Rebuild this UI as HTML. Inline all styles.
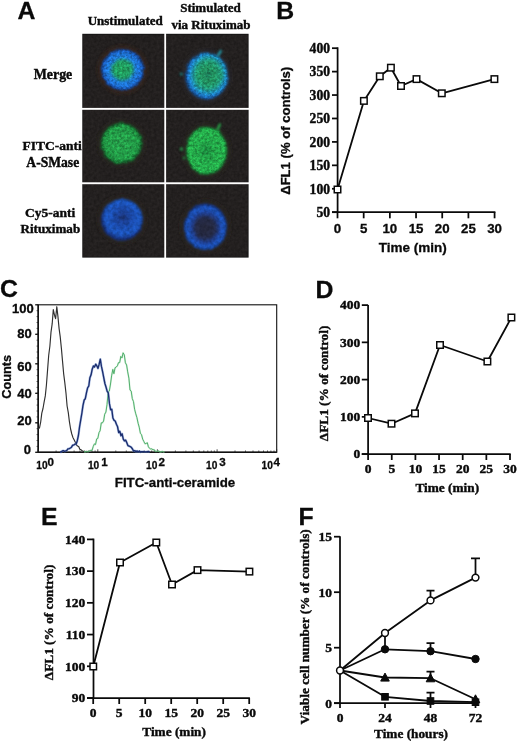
<!DOCTYPE html>
<html lang="en"><head><meta charset="utf-8"><title>Figure</title>
<style>
html,body{margin:0;padding:0;background:#fff;}
body{width:520px;height:743px;overflow:hidden;}
svg{display:block;}
.ab{font-family:"Liberation Sans",Arial,sans-serif;font-weight:bold;fill:#0a0a0a;stroke:#0a0a0a;stroke-width:0.3;}
.tb{font-family:"Liberation Serif","Times New Roman",serif;font-weight:bold;fill:#0a0a0a;stroke:#0a0a0a;stroke-width:0.4;}
.ax{stroke:#0a0a0a;stroke-width:1.75;fill:none;stroke-linecap:butt;}
.ln{stroke:#0a0a0a;stroke-width:1.8;fill:none;stroke-linejoin:round;}
.mk{fill:#fff;stroke:#0a0a0a;stroke-width:1.5;}
.mf{fill:#0a0a0a;stroke:#0a0a0a;stroke-width:1;}
</style></head><body>
<svg width="520" height="743" viewBox="0 0 520 743">
<rect width="520" height="743" fill="#fff"/>
<defs>
<filter id="bgn" x="0" y="0" width="100%" height="100%" color-interpolation-filters="sRGB">
 <feTurbulence type="fractalNoise" baseFrequency="0.35" numOctaves="2" seed="2"/>
 <feColorMatrix type="matrix" values="0.08 0 0 0 0.098  0.075 0 0 0 0.088  0.075 0 0 0 0.086  0 0 0 0 1"/>
 <feComposite in2="SourceGraphic" operator="in"/>
</filter>
<filter id="cell" x="-20%" y="-20%" width="140%" height="140%" color-interpolation-filters="sRGB">
 <feTurbulence type="fractalNoise" baseFrequency="0.2" numOctaves="2" seed="5" result="t"/>
 <feDisplacementMap in="SourceGraphic" in2="t" scale="3.2" xChannelSelector="R" yChannelSelector="G" result="d"/>
 <feGaussianBlur in="d" stdDeviation="1.25" result="b"/>
 <feTurbulence type="fractalNoise" baseFrequency="0.4" numOctaves="3" seed="11" result="n"/>
 <feColorMatrix in="n" type="matrix" values="0.62 0 0 0 0.48  0.62 0 0 0 0.48  0.62 0 0 0 0.48  0 0 0 0 1" result="g"/>
 <feComposite in="b" in2="g" operator="arithmetic" k1="1.25" k2="0" k3="0" k4="0"/>
</filter>
<filter id="cellsm" x="-20%" y="-20%" width="140%" height="140%" color-interpolation-filters="sRGB">
 <feTurbulence type="fractalNoise" baseFrequency="0.2" numOctaves="2" seed="8" result="t"/>
 <feDisplacementMap in="SourceGraphic" in2="t" scale="2.6" xChannelSelector="R" yChannelSelector="G" result="d"/>
 <feGaussianBlur in="d" stdDeviation="1.3" result="b"/>
 <feTurbulence type="fractalNoise" baseFrequency="0.3" numOctaves="2" seed="21" result="n"/>
 <feColorMatrix in="n" type="matrix" values="0.45 0 0 0 0.66  0.45 0 0 0 0.66  0.45 0 0 0 0.66  0 0 0 0 1" result="g"/>
 <feComposite in="b" in2="g" operator="arithmetic" k1="1.12" k2="0" k3="0" k4="0"/>
</filter>
<filter id="halo" x="-30%" y="-30%" width="160%" height="160%"><feGaussianBlur stdDeviation="2"/></filter>
<filter id="soft" x="-50%" y="-50%" width="200%" height="200%"><feGaussianBlur stdDeviation="0.9"/></filter>
<radialGradient id="gMergeL"><stop offset="0" stop-color="#22a35c"/><stop offset="0.44" stop-color="#219c66"/><stop offset="0.6" stop-color="#1f7ad6"/><stop offset="0.82" stop-color="#1e72d6"/><stop offset="0.93" stop-color="#1b5cc0"/><stop offset="1" stop-color="#193f8c"/></radialGradient>
<radialGradient id="gMergeR" cx="0.54" cy="0.47"><stop offset="0" stop-color="#1d7c5c"/><stop offset="0.3" stop-color="#239660"/><stop offset="0.6" stop-color="#229a76"/><stop offset="0.78" stop-color="#2094b4"/><stop offset="0.9" stop-color="#1f88d8"/><stop offset="1" stop-color="#1a5fae"/></radialGradient>
<radialGradient id="gGreenL"><stop offset="0" stop-color="#27a24c"/><stop offset="0.8" stop-color="#229c47"/><stop offset="0.93" stop-color="#1c863c"/><stop offset="1" stop-color="#166a30"/></radialGradient>
<radialGradient id="gGreenR"><stop offset="0" stop-color="#1c8c40"/><stop offset="0.35" stop-color="#23a548"/><stop offset="0.9" stop-color="#27b44e"/><stop offset="1" stop-color="#1b8a3c"/></radialGradient>
<radialGradient id="gBlueL" cx="0.52" cy="0.44"><stop offset="0" stop-color="#1b3270"/><stop offset="0.22" stop-color="#1b3f92"/><stop offset="0.5" stop-color="#1b4cae"/><stop offset="0.78" stop-color="#1d58c2"/><stop offset="0.92" stop-color="#1b4eb0"/><stop offset="1" stop-color="#183480"/></radialGradient>
<radialGradient id="gBlueR" cx="0.5" cy="0.52"><stop offset="0" stop-color="#25273a"/><stop offset="0.45" stop-color="#252b48"/><stop offset="0.64" stop-color="#1f3f92"/><stop offset="0.8" stop-color="#1c53bc"/><stop offset="0.92" stop-color="#1b4eb0"/><stop offset="1" stop-color="#183480"/></radialGradient>
</defs>
<g id="panelA">
<text class="ab" x="17.5" y="18.5" font-size="24.8">A</text>
<text class="tb" x="125.2" y="24.8" font-size="13" text-anchor="middle">Unstimulated</text>
<text class="tb" x="210.5" y="11.8" font-size="13" text-anchor="middle">Stimulated</text>
<text class="tb" x="211" y="28.6" font-size="13" text-anchor="middle">via Rituximab</text>
<text class="tb" x="53" y="79" font-size="13.9" text-anchor="middle">Merge</text>
<text class="tb" x="81.8" y="150.2" font-size="13.5" text-anchor="end">FITC-anti</text>
<text class="tb" x="79.2" y="167" font-size="13.6" text-anchor="end">A-SMase</text>
<text class="tb" x="75.2" y="216.6" font-size="13.5" text-anchor="end">Cy5-anti</text>
<text class="tb" x="80.2" y="232.6" font-size="13.1" text-anchor="end">Rituximab</text>
<rect x="82.3" y="33.8" width="166.3" height="223.8" fill="#121111"/>
<rect x="83.1" y="34.6" width="164.7" height="222.2" fill="#262323" filter="url(#bgn)"/>
<ellipse cx="122.5" cy="69.7" rx="24.0" ry="23.2" fill="#3a261e" filter="url(#halo)"/>
<ellipse cx="122.5" cy="69.7" rx="21.5" ry="20.7" fill="url(#gMergeL)" filter="url(#cell)"/>
<ellipse cx="206.5" cy="76" rx="23.7" ry="25.9" fill="#2a2a30" filter="url(#halo)"/>
<ellipse cx="206.5" cy="76" rx="21.2" ry="23.4" fill="url(#gMergeR)" filter="url(#cell)"/>
<ellipse cx="121.5" cy="143.4" rx="22.9" ry="22.9" fill="#2a2a22" filter="url(#halo)"/>
<ellipse cx="121.5" cy="143.4" rx="20.4" ry="20.4" fill="url(#gGreenL)" filter="url(#cell)"/>
<ellipse cx="206.6" cy="150.7" rx="23.0" ry="26.5" fill="#2a2a22" filter="url(#halo)"/>
<ellipse cx="206.6" cy="150.7" rx="20.5" ry="24" fill="url(#gGreenR)" filter="url(#cell)"/>
<ellipse cx="122" cy="219.7" rx="23.4" ry="23.4" fill="#2c2622" filter="url(#halo)"/>
<ellipse cx="122" cy="219.7" rx="20.9" ry="20.9" fill="url(#gBlueL)" filter="url(#cellsm)"/>
<ellipse cx="205.4" cy="226.8" rx="24.1" ry="25.7" fill="#2c2622" filter="url(#halo)"/>
<ellipse cx="205.4" cy="226.8" rx="21.6" ry="23.2" fill="url(#gBlueR)" filter="url(#cellsm)"/>
<g filter="url(#soft)" opacity="0.85"><path d="M218 55.5L220.8 51" stroke="#22a0b0" stroke-width="2.6" stroke-linecap="round"/><circle cx="181.3" cy="74" r="1.6" fill="#1f8a8a"/><path d="M217.6 129.5L219.8 124.5" stroke="#27b04e" stroke-width="2.6" stroke-linecap="round"/><circle cx="181.5" cy="149" r="1.7" fill="#25a54a"/><circle cx="184" cy="158" r="1.3" fill="#25a54a"/></g>
<rect x="164.3" y="33" width="1.8" height="225.4" fill="#fff"/>
<rect x="81" y="107.9" width="169" height="1.9" fill="#fff"/>
<rect x="81" y="182.3" width="169" height="1.9" fill="#fff"/>
</g>
<g id="panelB">
<text class="ab" x="276.3" y="19.2" font-size="24.8">B</text>
<path class="ax" d="M337.6 47.3V212.2"/>
<path class="ax" d="M332 212.2H495.4"/>
<path class="ax" stroke-width="1.5" d="M332 212.20H337.6"/>
<text class="tb" x="330" y="217.00" font-size="13.6" text-anchor="end">50</text>
<path class="ax" stroke-width="1.5" d="M332 188.77H337.6"/>
<text class="tb" x="330" y="193.57" font-size="13.6" text-anchor="end">100</text>
<path class="ax" stroke-width="1.5" d="M332 165.34H337.6"/>
<text class="tb" x="330" y="170.14" font-size="13.6" text-anchor="end">150</text>
<path class="ax" stroke-width="1.5" d="M332 141.91H337.6"/>
<text class="tb" x="330" y="146.71" font-size="13.6" text-anchor="end">200</text>
<path class="ax" stroke-width="1.5" d="M332 118.48H337.6"/>
<text class="tb" x="330" y="123.28" font-size="13.6" text-anchor="end">250</text>
<path class="ax" stroke-width="1.5" d="M332 95.05H337.6"/>
<text class="tb" x="330" y="99.85" font-size="13.6" text-anchor="end">300</text>
<path class="ax" stroke-width="1.5" d="M332 71.62H337.6"/>
<text class="tb" x="330" y="76.42" font-size="13.6" text-anchor="end">350</text>
<path class="ax" stroke-width="1.5" d="M332 48.19H337.6"/>
<text class="tb" x="330" y="52.99" font-size="13.6" text-anchor="end">400</text>
<path class="ax" stroke-width="1.5" d="M337.50 212.2V218.3"/>
<text class="ab" x="337.50" y="233.1" font-size="13.3" text-anchor="middle">0</text>
<path class="ax" stroke-width="1.5" d="M363.68 212.2V218.3"/>
<text class="ab" x="363.68" y="233.1" font-size="13.3" text-anchor="middle">5</text>
<path class="ax" stroke-width="1.5" d="M389.86 212.2V218.3"/>
<text class="ab" x="389.86" y="233.1" font-size="13.3" text-anchor="middle">10</text>
<path class="ax" stroke-width="1.5" d="M416.04 212.2V218.3"/>
<text class="ab" x="416.04" y="233.1" font-size="13.3" text-anchor="middle">15</text>
<path class="ax" stroke-width="1.5" d="M442.22 212.2V218.3"/>
<text class="ab" x="442.22" y="233.1" font-size="13.3" text-anchor="middle">20</text>
<path class="ax" stroke-width="1.5" d="M468.40 212.2V218.3"/>
<text class="ab" x="468.40" y="233.1" font-size="13.3" text-anchor="middle">25</text>
<path class="ax" stroke-width="1.5" d="M494.58 212.2V218.3"/>
<text class="ab" x="494.58" y="233.1" font-size="13.3" text-anchor="middle">30</text>
<polyline class="ln" points="337.5,189.5 363.9,100.9 379.8,76.3 390.9,67.7 401,86 416.5,79.1 441.8,93.3 494.4,79.1"/>
<rect class="mk" x="334.25" y="186.25" width="6.5" height="6.5"/>
<rect class="mk" x="360.65" y="97.65" width="6.5" height="6.5"/>
<rect class="mk" x="376.55" y="73.05" width="6.5" height="6.5"/>
<rect class="mk" x="387.65" y="64.45" width="6.5" height="6.5"/>
<rect class="mk" x="397.75" y="82.75" width="6.5" height="6.5"/>
<rect class="mk" x="413.25" y="75.85" width="6.5" height="6.5"/>
<rect class="mk" x="438.55" y="90.05" width="6.5" height="6.5"/>
<rect class="mk" x="491.15" y="75.85" width="6.5" height="6.5"/>
<text class="ab" x="412.7" y="252.1" font-size="13.5" text-anchor="middle">Time (min)</text>
<text class="ab" transform="translate(290.2 130.8) rotate(-90)" font-size="13.1" text-anchor="middle">ΔFL1 (% of controls)</text>
</g>
<g id="panelC">
<text class="ab" x="0" y="297.4" font-size="24.8">C</text>
<rect x="38.2" y="304.8" width="238.5" height="147.5" fill="none" stroke="#111" stroke-width="1.1"/>
<path d="M38.2 304.8V452.3H276.7" stroke="#111" stroke-width="1.5" fill="none"/>
<path d="M35.2 304.8H38.2" stroke="#111" stroke-width="1.3"/>
<text class="ab" x="33.7" y="313.1" font-size="13" text-anchor="end">100</text>
<path d="M35.2 334.3H38.2" stroke="#111" stroke-width="1.3"/>
<text class="ab" x="31.8" y="338.1" font-size="13" text-anchor="end">80</text>
<path d="M35.2 363.8H38.2" stroke="#111" stroke-width="1.3"/>
<text class="ab" x="31.8" y="370.8" font-size="13" text-anchor="end">60</text>
<path d="M35.2 393.3H38.2" stroke="#111" stroke-width="1.3"/>
<text class="ab" x="31.8" y="398.1" font-size="13" text-anchor="end">40</text>
<path d="M35.2 422.8H38.2" stroke="#111" stroke-width="1.3"/>
<text class="ab" x="31.8" y="425.4" font-size="13" text-anchor="end">20</text>
<path d="M35.2 452.3H38.2" stroke="#111" stroke-width="1.3"/>
<text class="ab" x="31.1" y="453.7" font-size="13" text-anchor="end">0</text>
<path d="M36.6 452.3H38.2M36.6 446.4H38.2M36.6 440.5H38.2M36.6 434.6H38.2M36.6 428.7H38.2M36.6 422.8H38.2M36.6 416.9H38.2M36.6 411.0H38.2M36.6 405.1H38.2M36.6 399.2H38.2M36.6 393.3H38.2M36.6 387.4H38.2M36.6 381.5H38.2M36.6 375.6H38.2M36.6 369.7H38.2M36.6 363.8H38.2M36.6 357.9H38.2M36.6 352.0H38.2M36.6 346.1H38.2M36.6 340.2H38.2M36.6 334.3H38.2M36.6 328.4H38.2M36.6 322.5H38.2M36.6 316.6H38.2M36.6 310.7H38.2" stroke="#222" stroke-width="0.8"/>
<path d="M56.1 452.3v-1.8M66.6 452.3v-1.8M74.1 452.3v-1.8M79.9 452.3v-1.8M84.6 452.3v-1.8M88.6 452.3v-1.8M92.0 452.3v-1.8M95.1 452.3v-1.8M115.8 452.3v-1.8M126.3 452.3v-1.8M133.7 452.3v-1.8M139.5 452.3v-1.8M144.2 452.3v-1.8M148.2 452.3v-1.8M151.7 452.3v-1.8M154.7 452.3v-1.8M175.4 452.3v-1.8M185.9 452.3v-1.8M193.3 452.3v-1.8M199.1 452.3v-1.8M203.8 452.3v-1.8M207.8 452.3v-1.8M211.3 452.3v-1.8M214.3 452.3v-1.8M235.0 452.3v-1.8M245.5 452.3v-1.8M253.0 452.3v-1.8M258.8 452.3v-1.8M263.5 452.3v-1.8M267.5 452.3v-1.8M270.9 452.3v-1.8M274.0 452.3v-1.8M38.2 452.3v-3M97.8 452.3v-3M157.4 452.3v-3M217.1 452.3v-3M276.7 452.3v-3" stroke="#222" stroke-width="0.8"/>
<text class="ab" x="47.6" y="468.9" font-size="11.8" text-anchor="end" textLength="11.3" lengthAdjust="spacingAndGlyphs">10</text>
<text class="ab" x="47.4" y="466.2" font-size="11.6">0</text>
<text class="ab" x="99.2" y="468.9" font-size="11.8" text-anchor="end" textLength="11.3" lengthAdjust="spacingAndGlyphs">10</text>
<text class="ab" x="101.3" y="466.2" font-size="11.6">1</text>
<text class="ab" x="157.4" y="468.9" font-size="11.8" text-anchor="end" textLength="11.3" lengthAdjust="spacingAndGlyphs">10</text>
<text class="ab" x="158.6" y="466.2" font-size="11.6">2</text>
<text class="ab" x="217.4" y="468.9" font-size="11.8" text-anchor="end" textLength="11.3" lengthAdjust="spacingAndGlyphs">10</text>
<text class="ab" x="219.3" y="466.2" font-size="11.6">3</text>
<text class="ab" x="272.8" y="468.9" font-size="11.8" text-anchor="end" textLength="11.3" lengthAdjust="spacingAndGlyphs">10</text>
<text class="ab" x="273.6" y="466.2" font-size="11.6">4</text>
<polyline points="38.4,428.8 39.5,427.8 40.7,422.0 41.8,413.1 43.0,408.5 44.1,402.2 45.3,395.9 46.4,385.2 47.6,369.6 48.7,355.2 49.9,346.0 51.0,332.1 52.2,323.7 53.3,309.6 54.5,315.2 55.6,318.6 56.8,306.7 57.9,316.1 59.1,328.6 60.2,336.6 61.4,348.4 62.5,360.9 63.7,374.1 64.8,382.6 66.0,393.3 67.1,406.0 68.3,412.6 69.4,421.6 70.6,429.0 71.8,434.0 72.9,437.4 74.1,439.8 75.2,441.9 76.4,444.8 77.5,446.0 78.7,446.5 79.8,449.2 81.0,449.7 82.1,450.8 83.3,451.2 84.4,452.0 85.6,452.0 86.7,451.4 87.9,451.7 89.0,452.0" fill="none" stroke="#303030" stroke-width="1.15" stroke-linejoin="round"/>
<polyline points="84.0,451.7 85.2,451.9 86.3,451.5 87.5,451.7 88.6,451.5 89.8,450.6 90.9,450.3 92.1,450.3 93.2,446.6 94.4,443.9 95.5,444.6 96.7,438.9 97.8,438.4 99.0,432.6 100.1,430.8 101.3,422.8 102.4,422.9 103.6,421.0 104.7,414.2 105.9,412.1 107.0,404.7 108.2,391.9 109.3,391.1 110.5,384.0 111.6,375.9 112.8,369.4 113.9,373.7 115.1,367.7 116.2,367.1 117.4,365.8 118.5,362.6 119.7,362.6 120.8,356.4 122.0,357.9 123.1,352.8 124.3,354.9 125.4,362.8 126.6,365.0 127.7,371.9 128.9,378.2 130.0,390.0 131.2,391.1 132.3,398.6 133.5,401.7 134.6,409.3 135.8,413.9 136.9,417.5 138.1,423.2 139.2,427.1 140.4,433.3 141.5,434.6 142.7,439.2 143.8,441.4 145.0,443.8 146.1,443.5 147.3,442.7 148.4,446.8 149.6,448.4 150.7,449.0 151.9,448.8 153.0,449.9 154.2,449.6 155.3,451.4 156.5,451.4 157.6,451.1 158.8,450.9 159.9,452.0 161.1,452.0 162.2,451.3 163.4,452.0 164.5,451.9" fill="none" stroke="#9bd6a8" stroke-width="1.8" stroke-linejoin="round" opacity="0.4"/>
<polyline points="84.0,451.7 85.2,451.9 86.3,451.5 87.5,451.7 88.6,451.5 89.8,450.6 90.9,450.3 92.1,450.3 93.2,446.6 94.4,443.9 95.5,444.6 96.7,438.9 97.8,438.4 99.0,432.6 100.1,430.8 101.3,422.8 102.4,422.9 103.6,421.0 104.7,414.2 105.9,412.1 107.0,404.7 108.2,391.9 109.3,391.1 110.5,384.0 111.6,375.9 112.8,369.4 113.9,373.7 115.1,367.7 116.2,367.1 117.4,365.8 118.5,362.6 119.7,362.6 120.8,356.4 122.0,357.9 123.1,352.8 124.3,354.9 125.4,362.8 126.6,365.0 127.7,371.9 128.9,378.2 130.0,390.0 131.2,391.1 132.3,398.6 133.5,401.7 134.6,409.3 135.8,413.9 136.9,417.5 138.1,423.2 139.2,427.1 140.4,433.3 141.5,434.6 142.7,439.2 143.8,441.4 145.0,443.8 146.1,443.5 147.3,442.7 148.4,446.8 149.6,448.4 150.7,449.0 151.9,448.8 153.0,449.9 154.2,449.6 155.3,451.4 156.5,451.4 157.6,451.1 158.8,450.9 159.9,452.0 161.1,452.0 162.2,451.3 163.4,452.0 164.5,451.9" fill="none" stroke="#4aac66" stroke-width="0.95" stroke-linejoin="round"/>
<polyline points="60.0,452.0 61.1,452.0 62.3,450.9 63.4,450.6 64.6,451.3 65.8,450.9 66.9,450.2 68.1,448.8 69.2,448.7 70.4,448.0 71.5,447.2 72.7,445.1 73.8,445.1 75.0,444.1 76.1,444.2 77.3,440.7 78.4,435.5 79.6,426.6 80.7,420.1 81.9,413.0 83.0,405.4 84.2,400.0 85.3,398.7 86.5,392.7 87.6,387.9 88.8,386.0 89.9,377.7 91.1,374.8 92.2,369.2 93.4,366.0 94.5,367.0 95.7,364.2 96.8,365.8 98.0,368.4 99.1,364.4 100.3,359.1 101.4,366.2 102.6,371.7 103.7,377.3 104.9,383.5 106.0,387.0 107.2,391.4 108.3,392.8 109.5,403.9 110.6,409.7 111.8,409.3 112.9,418.0 114.1,420.4 115.2,421.0 116.4,424.2 117.5,426.5 118.7,432.6 119.8,431.3 121.0,435.7 122.1,433.8 123.3,439.2 124.4,440.9 125.6,440.1 126.7,442.4 127.9,445.6 129.0,446.0 130.2,446.6 131.3,447.3 132.5,449.0 133.6,451.1 134.8,450.6 135.9,451.7 137.1,450.9 138.2,451.8 139.4,451.1 140.5,452.0 141.7,451.7 142.8,451.6 144.0,451.6 145.1,451.9 146.3,451.9 147.4,451.6 148.6,451.6 149.7,452.0" fill="none" stroke="#6f8fd0" stroke-width="2.4" stroke-linejoin="round" opacity="0.55"/>
<polyline points="60.0,452.0 61.1,452.0 62.3,450.9 63.4,450.6 64.6,451.3 65.8,450.9 66.9,450.2 68.1,448.8 69.2,448.7 70.4,448.0 71.5,447.2 72.7,445.1 73.8,445.1 75.0,444.1 76.1,444.2 77.3,440.7 78.4,435.5 79.6,426.6 80.7,420.1 81.9,413.0 83.0,405.4 84.2,400.0 85.3,398.7 86.5,392.7 87.6,387.9 88.8,386.0 89.9,377.7 91.1,374.8 92.2,369.2 93.4,366.0 94.5,367.0 95.7,364.2 96.8,365.8 98.0,368.4 99.1,364.4 100.3,359.1 101.4,366.2 102.6,371.7 103.7,377.3 104.9,383.5 106.0,387.0 107.2,391.4 108.3,392.8 109.5,403.9 110.6,409.7 111.8,409.3 112.9,418.0 114.1,420.4 115.2,421.0 116.4,424.2 117.5,426.5 118.7,432.6 119.8,431.3 121.0,435.7 122.1,433.8 123.3,439.2 124.4,440.9 125.6,440.1 126.7,442.4 127.9,445.6 129.0,446.0 130.2,446.6 131.3,447.3 132.5,449.0 133.6,451.1 134.8,450.6 135.9,451.7 137.1,450.9 138.2,451.8 139.4,451.1 140.5,452.0 141.7,451.7 142.8,451.6 144.0,451.6 145.1,451.9 146.3,451.9 147.4,451.6 148.6,451.6 149.7,452.0" fill="none" stroke="#1b2d6e" stroke-width="1.35" stroke-linejoin="round"/>
<text class="ab" x="175" y="486.8" font-size="13.3" text-anchor="middle">FITC-anti-ceramide</text>
<text class="ab" transform="translate(10.8 376.8) rotate(-90)" font-size="12.8" text-anchor="middle">Counts</text>
</g>
<g id="panelD">
<text class="ab" x="315.5" y="297.9" font-size="24.8">D</text>
<path class="ax" d="M368.1 305V454.1"/>
<path class="ax" d="M361.8 454.1H510.7"/>
<path class="ax" d="M361.8 454.10H368.1"/>
<text class="tb" x="360.3" y="458.40" font-size="13.5" text-anchor="end">0</text>
<path class="ax" d="M361.8 416.85H368.1"/>
<text class="tb" x="360.3" y="421.15" font-size="13.5" text-anchor="end">100</text>
<path class="ax" d="M361.8 379.60H368.1"/>
<text class="tb" x="360.3" y="383.90" font-size="13.5" text-anchor="end">200</text>
<path class="ax" d="M361.8 342.35H368.1"/>
<text class="tb" x="360.3" y="346.65" font-size="13.5" text-anchor="end">300</text>
<path class="ax" d="M361.8 305.10H368.1"/>
<text class="tb" x="360.3" y="309.40" font-size="13.5" text-anchor="end">400</text>
<path class="ax" d="M368.10 454.1V460"/>
<text class="tb" x="368.10" y="473.2" font-size="13.5" text-anchor="middle">0</text>
<path class="ax" d="M391.75 454.1V460"/>
<text class="tb" x="391.75" y="473.2" font-size="13.5" text-anchor="middle">5</text>
<path class="ax" d="M415.40 454.1V460"/>
<text class="tb" x="415.40" y="473.2" font-size="13.5" text-anchor="middle">10</text>
<path class="ax" d="M439.05 454.1V460"/>
<text class="tb" x="439.05" y="473.2" font-size="13.5" text-anchor="middle">15</text>
<path class="ax" d="M462.70 454.1V460"/>
<text class="tb" x="462.70" y="473.2" font-size="13.5" text-anchor="middle">20</text>
<path class="ax" d="M486.35 454.1V460"/>
<text class="tb" x="486.35" y="473.2" font-size="13.5" text-anchor="middle">25</text>
<path class="ax" d="M510.00 454.1V460"/>
<text class="tb" x="510.00" y="473.2" font-size="13.5" text-anchor="middle">30</text>
<polyline class="ln" points="368,418 391.5,423.7 415,413.4 440,345 487.4,361.5 511.4,317.5"/>
<rect class="mk" x="364.75" y="414.75" width="6.5" height="6.5"/>
<rect class="mk" x="388.25" y="420.45" width="6.5" height="6.5"/>
<rect class="mk" x="411.75" y="410.15" width="6.5" height="6.5"/>
<rect class="mk" x="436.75" y="341.75" width="6.5" height="6.5"/>
<rect class="mk" x="484.15" y="358.25" width="6.5" height="6.5"/>
<rect class="mk" x="508.15" y="314.25" width="6.5" height="6.5"/>
<text class="tb" x="447.3" y="492.4" font-size="13.3" text-anchor="middle">Time (min)</text>
<text class="tb" transform="translate(327.8 383.4) rotate(-90)" font-size="13.3" text-anchor="middle">ΔFL1 (% of control)</text>
</g>
<g id="panelE">
<text class="ab" x="40.9" y="524.8" font-size="24.8">E</text>
<path class="ax" d="M93.5 538.6V698"/>
<path class="ax" d="M87 698H249.9"/>
<path class="ax" d="M87 698.00H93.5"/>
<text class="tb" x="85.3" y="702.30" font-size="13.5" text-anchor="end">90</text>
<path class="ax" d="M87 666.28H93.5"/>
<text class="tb" x="85.3" y="670.58" font-size="13.5" text-anchor="end">100</text>
<path class="ax" d="M87 634.56H93.5"/>
<text class="tb" x="85.3" y="638.86" font-size="13.5" text-anchor="end">110</text>
<path class="ax" d="M87 602.84H93.5"/>
<text class="tb" x="85.3" y="607.14" font-size="13.5" text-anchor="end">120</text>
<path class="ax" d="M87 571.12H93.5"/>
<text class="tb" x="85.3" y="575.42" font-size="13.5" text-anchor="end">130</text>
<path class="ax" d="M87 539.40H93.5"/>
<text class="tb" x="85.3" y="543.70" font-size="13.5" text-anchor="end">140</text>
<path class="ax" d="M93.20 698V704"/>
<text class="tb" x="93.20" y="717" font-size="13.5" text-anchor="middle">0</text>
<path class="ax" d="M119.20 698V704"/>
<text class="tb" x="119.20" y="717" font-size="13.5" text-anchor="middle">5</text>
<path class="ax" d="M145.20 698V704"/>
<text class="tb" x="145.20" y="717" font-size="13.5" text-anchor="middle">10</text>
<path class="ax" d="M171.20 698V704"/>
<text class="tb" x="171.20" y="717" font-size="13.5" text-anchor="middle">15</text>
<path class="ax" d="M197.20 698V704"/>
<text class="tb" x="197.20" y="717" font-size="13.5" text-anchor="middle">20</text>
<path class="ax" d="M223.20 698V704"/>
<text class="tb" x="223.20" y="717" font-size="13.5" text-anchor="middle">25</text>
<path class="ax" d="M249.20 698V704"/>
<text class="tb" x="249.20" y="717" font-size="13.5" text-anchor="middle">30</text>
<polyline class="ln" points="93.25,666.5 120,562.5 156.3,542.5 172,584.5 197.5,570.1 249.4,571.6"/>
<rect class="mk" x="90.00" y="663.25" width="6.5" height="6.5"/>
<rect class="mk" x="116.75" y="559.25" width="6.5" height="6.5"/>
<rect class="mk" x="153.05" y="539.25" width="6.5" height="6.5"/>
<rect class="mk" x="168.75" y="581.25" width="6.5" height="6.5"/>
<rect class="mk" x="194.25" y="566.85" width="6.5" height="6.5"/>
<rect class="mk" x="246.15" y="568.35" width="6.5" height="6.5"/>
<text class="tb" x="174.1" y="735.8" font-size="13.3" text-anchor="middle">Time (min)</text>
<text class="tb" transform="translate(53.4 622.4) rotate(-90)" font-size="13.3" text-anchor="middle">ΔFL1 (% of control)</text>
</g>
<g id="panelF">
<text class="ab" x="298.6" y="524.9" font-size="24.8">F</text>
<path class="ax" d="M340 536.3V703.2"/>
<path class="ax" d="M334 703.2H476.2"/>
<path class="ax" d="M334 703.20H340"/>
<text class="tb" x="332" y="707.50" font-size="13.5" text-anchor="end">0</text>
<path class="ax" d="M334 647.70H340"/>
<text class="tb" x="332" y="652.00" font-size="13.5" text-anchor="end">5</text>
<path class="ax" d="M334 592.20H340"/>
<text class="tb" x="332" y="596.50" font-size="13.5" text-anchor="end">10</text>
<path class="ax" d="M334 536.70H340"/>
<text class="tb" x="332" y="541.00" font-size="13.5" text-anchor="end">15</text>
<path class="ax" d="M340.00 703.2V708"/>
<text class="tb" x="340.00" y="721.8" font-size="13.5" text-anchor="middle">0</text>
<path class="ax" d="M385.00 703.2V708"/>
<text class="tb" x="385.00" y="721.8" font-size="13.5" text-anchor="middle">24</text>
<path class="ax" d="M430.50 703.2V708"/>
<text class="tb" x="430.50" y="721.8" font-size="13.5" text-anchor="middle">48</text>
<path class="ax" d="M475.50 703.2V708"/>
<text class="tb" x="475.50" y="721.8" font-size="13.5" text-anchor="middle">72</text>
<polyline class="ln" points="340,670.5 385,633 430.5,600.4 475.5,577.6"/>
<polyline class="ln" points="340,670.5 385,649.3 430.5,651.2 475.5,659"/>
<polyline class="ln" points="340,670.5 385,677.5 430.5,678.2 475.5,699.2"/>
<polyline class="ln" points="340,670.5 385,696.8 430.5,701 475.5,702.2"/>
<path class="ax" stroke-width="1.3" d="M430.5 600.4V590.5M426.5 590.5H434.5"/>
<path class="ax" stroke-width="1.3" d="M430.5 651.2V643M426.5 643H434.5"/>
<path class="ax" stroke-width="1.3" d="M430.5 678.2V671.6M426.5 671.6H434.5"/>
<path class="ax" stroke-width="1.3" d="M430.5 701V692.6M426.5 692.6H434.5"/>
<path class="ax" stroke-width="1.3" d="M475.5 577.6V558.4M471.0 558.4H480.0"/>
<path class="ax" stroke-width="1.2" d="M385 633V649"/>
<rect class="mf" x="381.7" y="693.5" width="6.6" height="6.6"/>
<rect class="mf" x="427.2" y="697.7" width="6.6" height="6.6"/>
<rect class="mf" x="472.2" y="698.9000000000001" width="6.6" height="6.6"/>
<path class="mf" d="M385 673.1L389.3 681.1H380.7Z"/>
<path class="mf" d="M430.5 673.8000000000001L434.8 681.8000000000001H426.2Z"/>
<path class="mf" d="M475.5 694.8000000000001L479.8 702.8000000000001H471.2Z"/>
<circle class="mf" cx="385" cy="649.3" r="3.7"/>
<circle class="mf" cx="430.5" cy="651.2" r="3.7"/>
<circle class="mf" cx="475.5" cy="659" r="3.7"/>
<circle class="mk" cx="340" cy="670.5" r="3.4"/>
<circle class="mk" cx="385" cy="633" r="3.4"/>
<circle class="mk" cx="430.5" cy="600.4" r="3.4"/>
<circle class="mk" cx="475.5" cy="577.6" r="3.4"/>
<text class="tb" x="411" y="737.5" font-size="13.3" text-anchor="middle">Time (hours)</text>
<text class="tb" transform="translate(309 626.8) rotate(-90)" font-size="13.25" text-anchor="middle">Viable cell number (% of controls)</text>
</g>
</svg>
</body></html>
